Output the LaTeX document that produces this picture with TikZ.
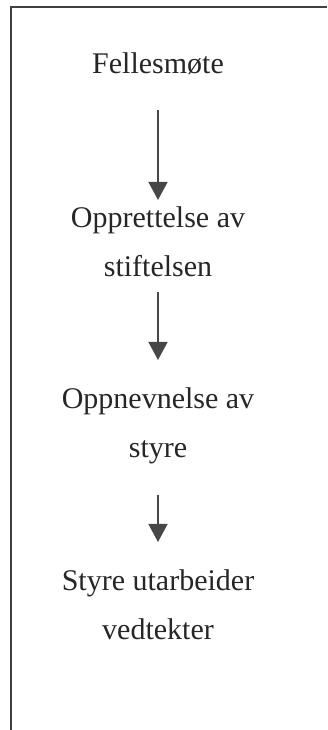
\documentclass[tikz,border=0pt]{standalone}
\usepackage{fontspec}
\setmainfont{Liberation Serif}
\usetikzlibrary{arrows.meta}
\begin{document}
\begin{tikzpicture}[x=1pt,y=1pt,
  lbl/.style={inner sep=0pt, anchor=base, align=center, text=black!85,
    font=\fontsize{30}{49}\selectfont},
  arr/.style={draw=black!72, line width=1.4pt,
    -{Triangle[width=19pt,length=18pt]}},
  frame/.style={draw=black!75, line width=1.4pt}]
\useasboundingbox (0,0) rectangle (327,730);
\draw[frame] (11,0) -- (11,723) -- (327,723);
\node[lbl] (fel) at (158,656) {Fellesmøte};
\node[lbl] (opp) at (158,453) {Opprettelse av\\stiftelsen};
\node[lbl] (styre) at (158,272) {Oppnevnelse av\\styre};
\node[lbl] (ved) at (158,90) {Styre utarbeider\\vedtekter};
\draw[arr] ([yshift=-36pt]fel.base) -- ([yshift=77pt]opp.base);
\draw[arr] ([yshift=-15pt]opp.base) -- ([yshift=98pt]styre.base);
\draw[arr] ([yshift=-37pt]styre.base) -- ([yshift=98pt]ved.base);
\end{tikzpicture}
\end{document}
